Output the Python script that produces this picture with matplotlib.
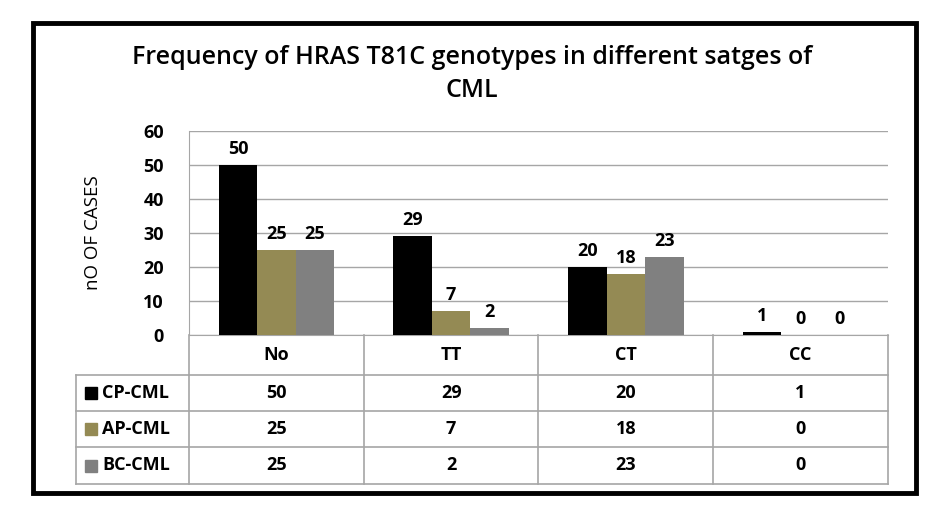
import matplotlib.pyplot as plt
import matplotlib.patches as mpatches
import matplotlib.lines as mlines
import numpy as np

# data
genotypes = ["No", "TT", "CT", "CC"]
stages = ["CP-CML", "AP-CML", "BC-CML"]
cp_cml = [50, 29, 20, 1]
ap_cml = [25, 7, 18, 0]
bc_cml = [25, 2, 23, 0]
series = [cp_cml, ap_cml, bc_cml]
colors = ["#000000", "#948A54", "#808080"]
yticks = [0, 10, 20, 30, 40, 50, 60]

W, H = 945, 525
plt.rcParams['font.family'] = ['Open Sans', 'DejaVu Sans']
fig = plt.figure(figsize=(W / 100, H / 100), dpi=100)

def fx(x):
    return x / W

def fy(y):
    return 1 - y / H

# plot area in pixels
L, R, T, B = 189, 888, 131, 335
ax = fig.add_axes([fx(L), fy(B), fx(R - L), (B - T) / H])

grid_c = "#A6A6A6"
fs = 13
x = np.arange(len(genotypes))
bw = 0.22
for i, (vals, c) in enumerate(zip(series, colors)):
    pos = x + (i - 1) * bw
    bars = ax.bar(pos, vals, bw, color=c, zorder=3, label=stages[i])
    for b, v in zip(bars, vals):
        ax.annotate(str(v), (b.get_x() + b.get_width() / 2, v),
                    xytext=(0, 5), textcoords="offset points",
                    ha="center", va="bottom", fontsize=fs, fontweight="bold")

ax.set_xlim(-0.5, len(genotypes) - 0.5)
ax.set_ylim(0, 60)
ax.set_yticks(yticks)
ax.set_yticklabels([str(t) for t in yticks], fontsize=fs, fontweight="bold")
ax.set_xticks([])
ax.tick_params(axis="y", length=0, pad=18)
ax.yaxis.grid(True, color=grid_c, linewidth=1, zorder=0)
for s in ["top", "right"]:
    ax.spines[s].set_visible(False)
for s in ["left", "bottom"]:
    ax.spines[s].set_color(grid_c)
ax.set_ylabel("nO OF CASES", fontsize=13.5, labelpad=30)

# title
fig.text(fx(472), fy(57), "Frequency of HRAS T81C genotypes in different satges of",
         ha="center", va="center", fontsize=18, fontweight="semibold")
fig.text(fx(472), fy(90), "CML", ha="center", va="center", fontsize=18,
         fontweight="semibold")

# data table below the axes
def line(x0, y0, x1, y1, c=grid_c, lw=1.2):
    fig.add_artist(mlines.Line2D([fx(x0), fx(x1)], [fy(y0), fy(y1)],
                                 color=c, linewidth=lw))

colw = (R - L) / len(genotypes)
row_y = [335, 375, 411, 447, 484]
tab_left = 76
# header row
line(L, row_y[1], R, row_y[1])
for k in range(len(genotypes) + 1):
    line(L + k * colw, row_y[0], L + k * colw, row_y[-1])
for k, g in enumerate(genotypes):
    fig.text(fx(L + (k + 0.5) * colw), fy((row_y[0] + row_y[1]) / 2), g,
             ha="center", va="center", fontsize=fs, fontweight="bold")
# body rows
line(tab_left, row_y[1], L, row_y[1])
for r in range(2, 5):
    line(tab_left, row_y[r], R, row_y[r])
line(tab_left, row_y[1], tab_left, row_y[-1])
for r, (name, vals, c) in enumerate(zip(stages, series, colors)):
    yc = (row_y[r + 1] + row_y[r + 2]) / 2
    fig.add_artist(mpatches.Rectangle((fx(85), fy(yc + 6)), fx(12), 12 / H,
                                      color=c))
    fig.text(fx(102), fy(yc), name, ha="left", va="center", fontsize=fs,
             fontweight="bold")
    for k, v in enumerate(vals):
        fig.text(fx(L + (k + 0.5) * colw), fy(yc), str(v), ha="center",
                 va="center", fontsize=fs, fontweight="bold")

# outer border
fig.add_artist(mpatches.Rectangle((fx(33), fy(493)), fx(916 - 33), (493 - 23) / H,
                                  fill=False, edgecolor="black", linewidth=3.5))

fig.savefig("out.png", dpi=100)
